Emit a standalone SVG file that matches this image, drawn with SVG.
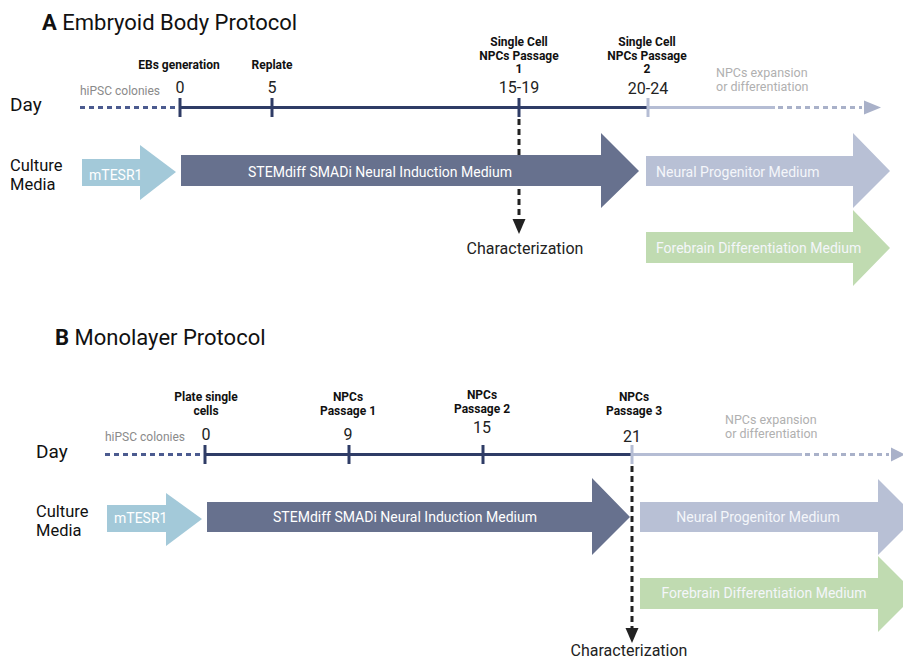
<svg xmlns="http://www.w3.org/2000/svg" width="903" height="661" viewBox="0 0 903 661">
<style>
text{font-family:Roboto,"Liberation Sans",sans-serif;}
.title{font-size:22px;fill:#111;}
.day{font-size:19px;fill:#111;}
.cm{font-size:16.5px;fill:#111;}
.ev{font-size:12px;font-weight:bold;fill:#111;text-anchor:middle;}
.num{font-size:16px;fill:#222;text-anchor:middle;}
.gray{font-size:12px;fill:#8a8a8a;}
.lgray{font-size:12.5px;fill:#b0b0b0;}
.box{font-size:14px;fill:#fff;}
.boxl{font-size:14px;fill:#f4f6fa;}
.ch{font-size:16px;fill:#222;text-anchor:middle;}
.dark{stroke:#2f3c66;stroke-width:3;fill:none;}
.dash{stroke:#4b5b8f;stroke-width:3;stroke-dasharray:5 4;fill:none;}
.light{stroke:#b5bdd4;stroke-width:3;fill:none;}
.ldash{stroke:#a9b1c9;stroke-width:3;stroke-dasharray:5 4;fill:none;}
.tick{stroke:#2f3c66;stroke-width:3;}
.ltick{stroke:#b5bdd4;stroke-width:3;}
.vdash{stroke:#222;stroke-width:3;stroke-dasharray:6 4;fill:none;}
.mt{fill:#a3c9d9;}
.sm{fill:#67718e;}
.np{fill:#b8c0d5;}
.fb{fill:#c0dbb1;}
</style>

<!-- Section A -->
<g id="titleA"><text x="42" y="30" class="title"><tspan font-weight="bold">A</tspan> Embryoid Body Protocol</text></g>
<g id="dayA"><text x="10" y="111" class="day">Day</text></g>
<g id="cmA"><text x="10" y="171" class="cm">Culture</text><text x="10" y="190" class="cm">Media</text></g>

<g id="connectorsA">
<line x1="80" y1="107.5" x2="177" y2="107.5" class="dash"/>
<line x1="180" y1="107.5" x2="648" y2="107.5" class="dark"/>
<line x1="648" y1="107.5" x2="775" y2="107.5" class="light"/>
<line x1="778" y1="107.5" x2="862" y2="107.5" class="ldash"/>
<polygon points="864,100.5 881,107.5 864,114.5" fill="#a9b1c9"/>
<line x1="180" y1="98" x2="180" y2="117" class="tick"/>
<line x1="272" y1="98" x2="272" y2="117" class="tick"/>
<line x1="519" y1="98" x2="519" y2="117" class="tick"/>
<line x1="648" y1="98" x2="648" y2="117" class="ltick"/>
<line x1="519" y1="119" x2="519" y2="222" class="vdash"/>
<polygon points="512.5,219 525.5,219 519,234" fill="#222"/>
</g>

<g id="labelsA">
<text x="80" y="95" class="gray">hiPSC colonies</text>
<text x="180" y="93" class="num">0</text>
<text x="272" y="93" class="num">5</text>
<text x="519" y="93" class="num">15-19</text>
<text x="648" y="94" class="num">20-24</text>
<text x="179" y="69" class="ev">EBs generation</text>
<text x="272" y="69" class="ev">Replate</text>
<text x="519" y="46" class="ev">Single Cell</text>
<text x="519" y="59.5" class="ev">NPCs Passage</text>
<text x="519" y="73" class="ev">1</text>
<text x="647" y="46" class="ev">Single Cell</text>
<text x="647" y="59.5" class="ev">NPCs Passage</text>
<text x="647" y="73" class="ev">2</text>
<text x="716" y="77" class="lgray">NPCs expansion</text>
<text x="716" y="91" class="lgray">or differentiation</text>
</g>

<g id="mtesrA"><polygon class="mt" points="82,159 140,159 140,145 176,172 140,200 140,186 82,186"/><text x="89" y="180" class="box">mTESR1</text></g>
<g id="smadiA"><polygon class="sm" points="181,155 601,155 601,133 639,171 601,208 601,186 181,186"/><text x="380" y="177" class="box" text-anchor="middle">STEMdiff SMADi Neural Induction Medium</text></g>
<g id="npmA"><polygon class="np" points="646,156 853,156 853,133 890,171 853,208 853,186 646,186"/><text x="656" y="177" class="boxl">Neural Progenitor Medium</text></g>
<g id="fbA"><polygon class="fb" points="646,232 853,232 853,210 890,248 853,286 853,263 646,263"/><text x="656" y="253" class="boxl">Forebrain Differentiation Medium</text></g>
<g id="charA"><text x="525" y="254" class="ch">Characterization</text></g>

<!-- Section B -->
<g id="titleB"><text x="55" y="345" class="title"><tspan font-weight="bold">B</tspan> Monolayer Protocol</text></g>
<g id="dayB"><text x="36" y="458" class="day">Day</text></g>
<g id="cmB"><text x="36" y="517" class="cm">Culture</text><text x="36" y="536" class="cm">Media</text></g>

<g id="connectorsB">
<line x1="105" y1="454.5" x2="202" y2="454.5" class="dash"/>
<line x1="205" y1="454.5" x2="632" y2="454.5" class="dark"/>
<line x1="632" y1="454.5" x2="802" y2="454.5" class="light"/>
<line x1="805" y1="454.5" x2="889" y2="454.5" class="ldash"/>
<polygon points="891,447.5 905,454.5 891,461.5" fill="#a9b1c9"/>
<line x1="205" y1="445" x2="205" y2="464" class="tick"/>
<line x1="349" y1="445" x2="349" y2="464" class="tick"/>
<line x1="483" y1="445" x2="483" y2="464" class="tick"/>
<line x1="632" y1="445" x2="632" y2="464" class="ltick"/>
</g>

<g id="labelsB">
<text x="105" y="441" class="gray">hiPSC colonies</text>
<text x="206" y="440" class="num">0</text>
<text x="348" y="440" class="num">9</text>
<text x="482" y="433" class="num">15</text>
<text x="632" y="442" class="num">21</text>
<text x="206" y="401" class="ev">Plate single</text>
<text x="206" y="415" class="ev">cells</text>
<text x="348" y="401" class="ev">NPCs</text>
<text x="348" y="415" class="ev">Passage 1</text>
<text x="482" y="399" class="ev">NPCs</text>
<text x="482" y="413" class="ev">Passage 2</text>
<text x="634" y="401" class="ev">NPCs</text>
<text x="634" y="415" class="ev">Passage 3</text>
<text x="725" y="424" class="lgray">NPCs expansion</text>
<text x="725" y="438" class="lgray">or differentiation</text>
</g>

<g id="mtesrB"><polygon class="mt" points="107,505 166,505 166,493 202,519 166,546 166,532 107,532"/><text x="114" y="523" class="box">mTESR1</text></g>
<g id="smadiB"><polygon class="sm" points="207,502 592,502 592,478 630,517 592,555 592,532 207,532"/><text x="405" y="522" class="box" text-anchor="middle">STEMdiff SMADi Neural Induction Medium</text></g>
<g id="npmB"><polygon class="np" points="640,502 878,502 878,479 916,517 878,555 878,532 640,532"/><text x="758" y="522" class="boxl" text-anchor="middle">Neural Progenitor Medium</text></g>
<g id="fbB"><polygon class="fb" points="640,578 878,578 878,556 916,594 878,632 878,609 640,609"/><text x="764" y="598" class="boxl" text-anchor="middle">Forebrain Differentiation Medium</text></g>

<g id="connectorsB2">
<line x1="632" y1="466" x2="632" y2="630" class="vdash"/>
<polygon points="625.5,628 638.5,628 632,643" fill="#222"/>
</g>
<g id="charB"><text x="629" y="656" class="ch">Characterization</text></g>
</svg>
